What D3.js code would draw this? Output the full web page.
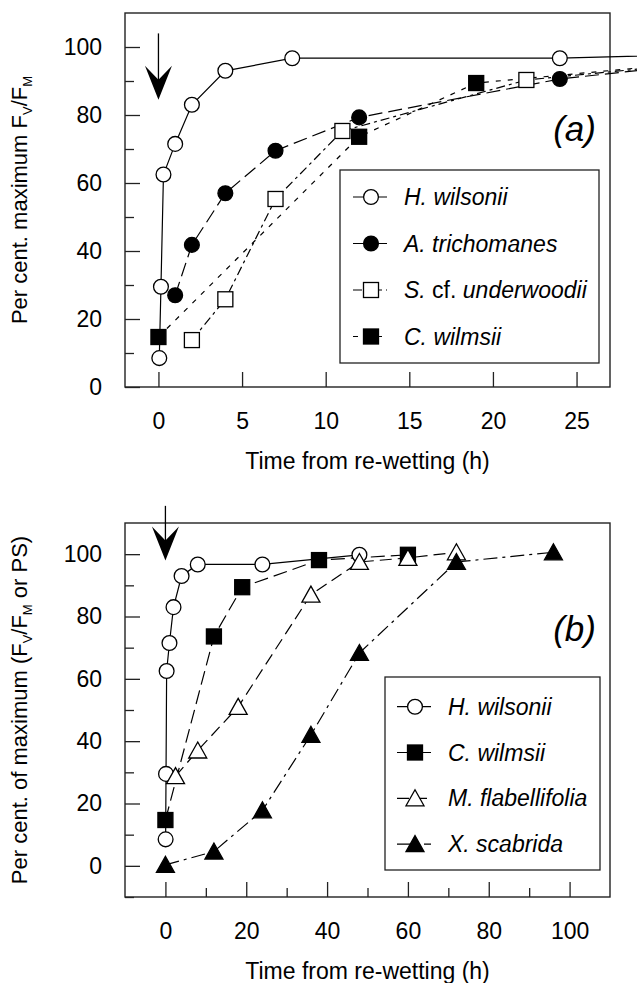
<!DOCTYPE html>
<html>
<head>
<meta charset="utf-8">
<script src="https://cdn.jsdelivr.net/npm/d3@7"></script>
<style>
  body { margin: 0; background: #fff; }
  text { font-family: "Liberation Sans", Arial, Helvetica, sans-serif; }
</style>
</head>
<body>
<svg id="chart" width="637" height="983"></svg>
<script>
// ---- data, panel (a) ----
const hwTime = [0.05, 0.15, 0.3, 1, 2, 4, 8, 24, 48];
const hwVal  = [8.5, 29.5, 62.5, 71.5, 83, 93, 96.7, 96.7, 99.8];
const atTime = [1, 2, 4, 7, 12, 24, 36];
const atVal  = [27, 41.8, 57, 69.5, 79.3, 90.6, 97];
const suTime = [2, 4, 7, 11, 22, 36];
const suVal  = [13.8, 25.8, 55.3, 75.3, 90.3, 97];
const cwTime = [0, 12, 19, 38, 60];
const cwVal  = [14.7, 73.6, 89.4, 98.1, 99.8];

// ---- data, panel (b) ----
const mfTime = [2.5, 8, 18, 36, 48, 60, 72];
const mfVal  = [28.8, 37, 51, 87, 97.5, 98.8, 100.6];
const xsTime = [0, 12, 24, 36, 48, 72, 96];
const xsVal  = [0.3, 4.6, 17.8, 42, 68.3, 97.5, 100.6];

// ---- ticks ----
const aXTicks = [0, 5, 10, 15, 20, 25];
const aYTicks = [0, 20, 40, 60, 80, 100];
const aYMinor = [10, 30, 50, 70, 90];
const bXTicks = [0, 20, 40, 60, 80, 100];
const bXMinor = [10, 30, 50, 70, 90];
const bYTicks = [0, 20, 40, 60, 80, 100];
const bYMinor = [-10, 10, 30, 50, 70, 90];

const svg = d3.select("#chart");
const L = 125, R = 610, FS = 23;

function marker(g, shape, filled, cx, cy) {
  const fill = filled ? "#000" : "#fff";
  let m;
  if (shape === "circle") {
    m = g.append("circle").attr("cx", cx).attr("cy", cy).attr("r", 7.4);
  } else if (shape === "square") {
    m = g.append("rect").attr("x", cx - 7.5).attr("y", cy - 7.5).attr("width", 15).attr("height", 15);
  } else {
    m = g.append("path").attr("d", `M${cx},${cy - 8.5}L${cx + 9},${cy + 7.5}L${cx - 9},${cy + 7.5}Z`);
  }
  m.attr("fill", fill).attr("stroke", "#000").attr("stroke-width", 1.3);
}

function species(t, parts) {
  // parts: [[text, italic], ...]
  parts.forEach(([s, it]) => {
    t.append("tspan").text(s).attr("font-style", it ? "italic" : "normal");
  });
}

function panel(cfg) {
  const x = d3.scaleLinear().domain(cfg.xDomain).range([L, R]);
  const y = d3.scaleLinear().domain(cfg.yDomain).range([cfg.bottom, cfg.top]);
  const g = svg.append("g");

  g.append("rect")
    .attr("x", L).attr("y", cfg.top)
    .attr("width", R - L).attr("height", cfg.bottom - cfg.top)
    .attr("fill", "none").attr("stroke", "#222").attr("stroke-width", 1.4);

  const styleAxis = a => {
    a.select(".domain").remove();
    a.attr("font-size", FS).attr("fill", "#000");
    a.selectAll(".tick line").attr("stroke", "#222").attr("stroke-width", 1.3);
    a.selectAll(".tick text").attr("fill", "#000");
  };

  g.append("g").attr("transform", `translate(${L},0)`)
    .call(d3.axisLeft(y).tickValues(cfg.yTicks).tickSize(-15).tickPadding(23))
    .call(styleAxis);
  g.append("g").attr("transform", `translate(${L},0)`)
    .call(d3.axisLeft(y).tickValues(cfg.yMinor).tickSize(-9).tickFormat(""))
    .call(styleAxis);
  g.append("g").attr("transform", `translate(0,${cfg.bottom})`)
    .call(d3.axisBottom(x).tickValues(cfg.xTicks).tickSize(-15).tickPadding(26))
    .call(styleAxis);
  if (cfg.xMinor) {
    g.append("g").attr("transform", `translate(0,${cfg.bottom})`)
      .call(d3.axisBottom(x).tickValues(cfg.xMinor).tickSize(-9).tickFormat(""))
      .call(styleAxis);
  }

  // arrow marking re-wetting
  const ax = x(cfg.arrow[0]), ay0 = y(cfg.arrow[1]), ay1 = y(cfg.arrow[2]);
  g.append("line").attr("x1", ax).attr("x2", ax).attr("y1", ay0).attr("y2", ay1 - 10)
    .attr("stroke", "#000").attr("stroke-width", 1.3);
  g.append("path")
    .attr("d", `M${ax},${ay1}L${ax - 13.5},${ay1 - 34}L${ax},${ay1 - 20}L${ax + 13.5},${ay1 - 34}Z`)
    .attr("fill", "#000");

  const line = d3.line().x(d => x(d[0])).y(d => y(d[1]));
  cfg.series.forEach(s => {
    g.append("path").datum(d3.zip(s.t, s.v))
      .attr("d", line).attr("fill", "none")
      .attr("stroke", "#000").attr("stroke-width", 1.2)
      .attr("stroke-dasharray", s.dash);
  });
  cfg.series.forEach(s => {
    d3.zip(s.t, s.v).forEach(([t, v]) => {
      if (t <= cfg.xDomain[1]) marker(g, s.shape, s.filled, x(t), y(v));
    });
  });

  // panel letter
  g.append("text").attr("x", 596).attr("y", cfg.letterY)
    .attr("text-anchor", "end").attr("font-size", 35).attr("font-style", "italic")
    .text(cfg.letter);

  // axis titles
  g.append("text").attr("x", (L + R) / 2).attr("y", cfg.bottom + 82)
    .attr("text-anchor", "middle").attr("font-size", FS)
    .text("Time from re-wetting (h)");

  const yt = g.append("text")
    .attr("transform", `translate(32,${(cfg.top + cfg.bottom) / 2}) rotate(-90)`)
    .attr("text-anchor", "middle").attr("font-size", 22);
  cfg.yTitle.forEach(([s, sub]) => {
    if (sub) {
      yt.append("tspan").text(s).attr("font-size", 13).attr("dy", 5);
    } else {
      yt.append("tspan").text(s).attr("dy", yt.node().childNodes.length ? -5 : 0);
    }
  });

  // legend
  const lg = cfg.legend;
  g.append("rect").attr("x", lg.x0).attr("y", lg.y0)
    .attr("width", lg.x1 - lg.x0).attr("height", lg.y1 - lg.y0)
    .attr("fill", "#fff").attr("stroke", "#222").attr("stroke-width", 1.3);
  cfg.series.forEach((s, i) => {
    const ry = lg.first + i * lg.step;
    g.append("line").attr("x1", lg.sx - 18).attr("x2", lg.sx + 16)
      .attr("y1", ry).attr("y2", ry)
      .attr("stroke", "#000").attr("stroke-width", 1.2)
      .attr("stroke-dasharray", s.dash);
    marker(g, s.shape, s.filled, lg.sx, ry);
    const tx = g.append("text").attr("x", lg.tx).attr("y", ry + 8).attr("font-size", FS);
    species(tx, s.label);
  });
}

panel({
  top: 13, bottom: 387,
  xDomain: [-2, 27], yDomain: [0, 110],
  xTicks: aXTicks, yTicks: aYTicks, yMinor: aYMinor,
  arrow: [0, 104, 84.5],
  letter: "(a)", letterY: 141,
  yTitle: [["Per cent. maximum F", false], ["V", true], ["/F", false], ["M", true]],
  legend: { x0: 340, x1: 599, y0: 170, y1: 363, first: 197, step: 46.5, sx: 371, tx: 404 },
  series: [
    { t: hwTime, v: hwVal, shape: "circle", filled: false, dash: null, label: [["H. wilsonii", true]] },
    { t: atTime, v: atVal, shape: "circle", filled: true, dash: "14,6", label: [["A. trichomanes", true]] },
    { t: suTime, v: suVal, shape: "square", filled: false, dash: "9,4,3,4", label: [["S.", true], [" cf. ", false], ["underwoodii", true]] },
    { t: cwTime, v: cwVal, shape: "square", filled: true, dash: "5,7", label: [["C. wilmsii", true]] }
  ]
});

panel({
  top: 523, bottom: 897,
  xDomain: [-10, 110], yDomain: [-10, 110],
  xTicks: bXTicks, xMinor: bXMinor, yTicks: bYTicks, yMinor: bYMinor,
  arrow: [0, 115.5, 98],
  letter: "(b)", letterY: 641,
  yTitle: [["Per cent. of maximum (F", false], ["V", true], ["/F", false], ["M", true], [" or PS)", false]],
  legend: { x0: 385, x1: 600, y0: 677, y1: 870, first: 706.7, step: 45.8, sx: 415, tx: 448 },
  series: [
    { t: hwTime, v: hwVal, shape: "circle", filled: false, dash: null, label: [["H. wilsonii", true]] },
    { t: cwTime, v: cwVal, shape: "square", filled: true, dash: "14,6", label: [["C. wilmsii", true]] },
    { t: mfTime, v: mfVal, shape: "triangle", filled: false, dash: "12,6", label: [["M. flabellifolia", true]] },
    { t: xsTime, v: xsVal, shape: "triangle", filled: true, dash: "14,5,3,5", label: [["X. scabrida", true]] }
  ]
});
</script>
</body>
</html>
